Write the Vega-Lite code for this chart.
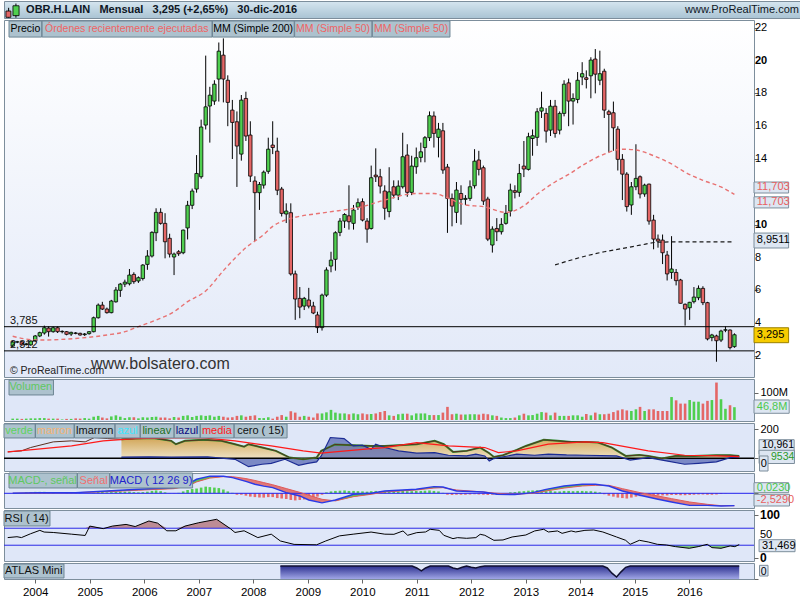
{
  "$schema": "https://vega.github.io/schema/vega-lite/v6.json",
  "background": "#ffffff",
  "padding": {"left": 2, "top": 0, "right": 0, "bottom": 0},
  "spacing": 2,
  "bounds": "flush",
  "config": {
    "font": "Liberation Sans",
    "view": {"stroke": "#7d8e9c", "strokeWidth": 1},
    "axis": {"labelFont": "Liberation Sans", "labelColor": "#000000", "labelFontSize": 11, "tickColor": "#666666", "tickSize": 4, "domain": false, "grid": false, "labelPadding": 2, "labelOverlap": false},
    "text": {"font": "Liberation Sans"}
  },
  "datasets": {
    "k": [
      {"d":"2003-07-01","o":2.60,"h":2.92,"l":2.55,"c":2.85,"v":5,"hs":0},
      {"d":"2003-08-01","o":2.85,"h":2.92,"l":2.78,"c":2.86,"v":5,"hs":0},
      {"d":"2003-09-01","o":2.86,"h":2.92,"l":2.62,"c":2.68,"v":4,"hs":0},
      {"d":"2003-10-01","o":2.70,"h":2.80,"l":2.64,"c":2.74,"v":5,"hs":0.2},
      {"d":"2003-11-01","o":2.68,"h":2.95,"l":2.62,"c":2.91,"v":6,"hs":0.25},
      {"d":"2003-12-01","o":2.91,"h":3.28,"l":2.88,"c":3.22,"v":6,"hs":0.3},
      {"d":"2004-01-01","o":3.22,"h":3.48,"l":3.15,"c":3.42,"v":7,"hs":0.3},
      {"d":"2004-02-01","o":3.40,"h":3.85,"l":3.30,"c":3.72,"v":7,"hs":0.3},
      {"d":"2004-03-01","o":3.70,"h":3.80,"l":3.18,"c":3.48,"v":5,"hs":0.2},
      {"d":"2004-04-01","o":3.48,"h":3.80,"l":3.42,"c":3.72,"v":5,"hs":0.1},
      {"d":"2004-05-01","o":3.72,"h":3.80,"l":3.40,"c":3.48,"v":5,"hs":0},
      {"d":"2004-06-01","o":3.48,"h":3.56,"l":3.38,"c":3.50,"v":2,"hs":0},
      {"d":"2004-07-01","o":3.48,"h":3.52,"l":3.26,"c":3.32,"v":4,"hs":-0.05},
      {"d":"2004-08-01","o":3.34,"h":3.48,"l":3.22,"c":3.44,"v":4,"hs":-0.05},
      {"d":"2004-09-01","o":3.40,"h":3.46,"l":3.32,"c":3.38,"v":6,"hs":-0.05},
      {"d":"2004-10-01","o":3.38,"h":3.42,"l":3.24,"c":3.28,"v":5,"hs":-0.05},
      {"d":"2004-11-01","o":3.30,"h":3.40,"l":3.22,"c":3.34,"v":7,"hs":0},
      {"d":"2004-12-01","o":3.36,"h":3.52,"l":3.30,"c":3.48,"v":5,"hs":0},
      {"d":"2005-01-01","o":3.48,"h":4.40,"l":3.44,"c":4.33,"v":12,"hs":0.1},
      {"d":"2005-02-01","o":4.33,"h":5.20,"l":4.28,"c":5.10,"v":15,"hs":0.3},
      {"d":"2005-03-01","o":5.10,"h":5.30,"l":4.80,"c":4.86,"v":9,"hs":0.3},
      {"d":"2005-04-01","o":4.86,"h":4.95,"l":4.58,"c":4.64,"v":6,"hs":0.2},
      {"d":"2005-05-01","o":4.64,"h":5.42,"l":4.60,"c":5.35,"v":13,"hs":0.25},
      {"d":"2005-06-01","o":5.30,"h":6.20,"l":5.25,"c":6.02,"v":17,"hs":0.35},
      {"d":"2005-07-01","o":6.00,"h":6.45,"l":5.60,"c":6.38,"v":12,"hs":0.4},
      {"d":"2005-08-01","o":6.38,"h":6.65,"l":6.20,"c":6.50,"v":7,"hs":0.35},
      {"d":"2005-09-01","o":6.40,"h":7.30,"l":6.30,"c":6.93,"v":10,"hs":0.35},
      {"d":"2005-10-01","o":6.97,"h":7.10,"l":6.40,"c":6.53,"v":10,"hs":0.25},
      {"d":"2005-11-01","o":6.57,"h":6.85,"l":6.45,"c":6.77,"v":6,"hs":0.2},
      {"d":"2005-12-01","o":6.72,"h":7.60,"l":6.60,"c":7.54,"v":10,"hs":0.25},
      {"d":"2006-01-01","o":7.58,"h":8.45,"l":7.25,"c":8.09,"v":9,"hs":0.35},
      {"d":"2006-02-01","o":8.09,"h":9.60,"l":8.00,"c":9.53,"v":11,"hs":0.5},
      {"d":"2006-03-01","o":9.51,"h":11.00,"l":9.00,"c":10.75,"v":12,"hs":0.6},
      {"d":"2006-04-01","o":10.75,"h":11.00,"l":10.00,"c":10.08,"v":9,"hs":0.45},
      {"d":"2006-05-01","o":10.08,"h":10.70,"l":7.95,"c":8.96,"v":9,"hs":0.2},
      {"d":"2006-06-01","o":9.17,"h":9.45,"l":8.00,"c":8.21,"v":6,"hs":0.05},
      {"d":"2006-07-01","o":8.03,"h":8.30,"l":6.93,"c":8.21,"v":11,"hs":-0.05},
      {"d":"2006-08-01","o":8.35,"h":8.45,"l":8.10,"c":8.23,"v":9,"hs":0.1},
      {"d":"2006-09-01","o":8.29,"h":9.70,"l":8.20,"c":9.67,"v":15,"hs":0.4},
      {"d":"2006-10-01","o":9.80,"h":11.45,"l":9.10,"c":11.18,"v":17,"hs":0.7},
      {"d":"2006-11-01","o":11.18,"h":12.20,"l":10.95,"c":12.05,"v":11,"hs":0.9},
      {"d":"2006-12-01","o":12.17,"h":14.24,"l":11.95,"c":13.12,"v":15,"hs":1.0},
      {"d":"2007-01-01","o":12.92,"h":16.40,"l":12.80,"c":15.95,"v":17,"hs":1.2},
      {"d":"2007-02-01","o":16.07,"h":20.30,"l":15.80,"c":17.18,"v":15,"hs":1.4},
      {"d":"2007-03-01","o":17.23,"h":18.40,"l":15.00,"c":17.89,"v":17,"hs":1.3},
      {"d":"2007-04-01","o":17.53,"h":18.80,"l":17.30,"c":18.56,"v":12,"hs":1.2},
      {"d":"2007-05-01","o":18.87,"h":21.10,"l":17.50,"c":20.57,"v":15,"hs":1.1},
      {"d":"2007-06-01","o":20.33,"h":21.35,"l":17.45,"c":18.87,"v":12,"hs":0.8},
      {"d":"2007-07-01","o":18.80,"h":19.10,"l":16.00,"c":17.45,"v":9,"hs":0.4},
      {"d":"2007-08-01","o":16.98,"h":17.60,"l":14.00,"c":16.23,"v":10,"hs":0.1},
      {"d":"2007-09-01","o":16.27,"h":16.90,"l":12.30,"c":14.79,"v":15,"hs":-0.3},
      {"d":"2007-10-01","o":14.30,"h":17.90,"l":13.90,"c":17.59,"v":17,"hs":-0.3},
      {"d":"2007-11-01","o":17.69,"h":18.10,"l":15.10,"c":15.40,"v":12,"hs":-0.5},
      {"d":"2007-12-01","o":15.46,"h":16.30,"l":12.60,"c":12.96,"v":15,"hs":-0.7},
      {"d":"2008-01-01","o":12.66,"h":12.95,"l":9.00,"c":11.95,"v":17,"hs":-0.8},
      {"d":"2008-02-01","o":11.95,"h":12.60,"l":10.90,"c":12.45,"v":7,"hs":-0.9},
      {"d":"2008-03-01","o":12.41,"h":13.30,"l":12.20,"c":13.20,"v":7,"hs":-0.9},
      {"d":"2008-04-01","o":13.25,"h":15.30,"l":13.10,"c":14.60,"v":10,"hs":-0.8},
      {"d":"2008-05-01","o":14.85,"h":16.30,"l":14.30,"c":14.70,"v":5,"hs":-0.8},
      {"d":"2008-06-01","o":14.48,"h":15.30,"l":11.80,"c":12.10,"v":12,"hs":-1.0},
      {"d":"2008-07-01","o":12.17,"h":12.30,"l":10.50,"c":10.69,"v":18,"hs":-1.1},
      {"d":"2008-08-01","o":10.65,"h":11.30,"l":10.10,"c":10.83,"v":12,"hs":-1.2},
      {"d":"2008-09-01","o":10.73,"h":11.30,"l":6.90,"c":7.00,"v":32,"hs":-1.4},
      {"d":"2008-10-01","o":7.00,"h":7.20,"l":4.20,"c":5.47,"v":27,"hs":-1.5},
      {"d":"2008-11-01","o":5.51,"h":6.20,"l":4.30,"c":4.98,"v":12,"hs":-1.4},
      {"d":"2008-12-01","o":5.04,"h":5.60,"l":4.80,"c":5.51,"v":15,"hs":-1.3},
      {"d":"2009-01-01","o":5.41,"h":6.15,"l":4.90,"c":5.04,"v":12,"hs":-1.1},
      {"d":"2009-02-01","o":5.04,"h":5.30,"l":4.55,"c":4.62,"v":9,"hs":-0.9},
      {"d":"2009-03-01","o":4.50,"h":4.70,"l":3.40,"c":3.73,"v":24,"hs":-0.7},
      {"d":"2009-04-01","o":3.73,"h":5.80,"l":3.55,"c":5.71,"v":24,"hs":-0.3},
      {"d":"2009-05-01","o":5.71,"h":7.40,"l":5.60,"c":7.24,"v":28,"hs":0.2},
      {"d":"2009-06-01","o":7.48,"h":8.35,"l":7.10,"c":7.84,"v":37,"hs":0.4},
      {"d":"2009-07-01","o":7.89,"h":9.60,"l":7.20,"c":9.51,"v":27,"hs":0.5},
      {"d":"2009-08-01","o":9.53,"h":10.40,"l":9.30,"c":10.22,"v":24,"hs":0.55},
      {"d":"2009-09-01","o":10.22,"h":10.70,"l":9.80,"c":10.62,"v":24,"hs":0.6},
      {"d":"2009-10-01","o":10.54,"h":12.40,"l":9.70,"c":10.18,"v":21,"hs":0.5},
      {"d":"2009-11-01","o":10.08,"h":11.20,"l":9.70,"c":10.89,"v":24,"hs":0.5},
      {"d":"2009-12-01","o":11.07,"h":11.60,"l":10.90,"c":11.34,"v":21,"hs":0.45},
      {"d":"2010-01-01","o":11.40,"h":11.60,"l":10.20,"c":10.28,"v":24,"hs":0.4},
      {"d":"2010-02-01","o":10.22,"h":10.40,"l":8.90,"c":9.73,"v":21,"hs":0.35},
      {"d":"2010-03-01","o":9.77,"h":13.60,"l":9.70,"c":12.86,"v":22,"hs":0.45},
      {"d":"2010-04-01","o":13.02,"h":14.65,"l":12.60,"c":12.92,"v":24,"hs":0.5},
      {"d":"2010-05-01","o":12.92,"h":13.40,"l":11.90,"c":12.35,"v":29,"hs":0.45},
      {"d":"2010-06-01","o":12.05,"h":12.40,"l":10.30,"c":11.00,"v":33,"hs":0.4},
      {"d":"2010-07-01","o":10.80,"h":13.50,"l":10.45,"c":12.00,"v":17,"hs":0.4},
      {"d":"2010-08-01","o":12.31,"h":12.70,"l":11.60,"c":11.80,"v":15,"hs":0.4},
      {"d":"2010-09-01","o":11.80,"h":12.70,"l":11.50,"c":12.35,"v":21,"hs":0.4},
      {"d":"2010-10-01","o":12.31,"h":15.60,"l":12.20,"c":14.14,"v":23,"hs":0.5},
      {"d":"2010-11-01","o":14.24,"h":14.90,"l":11.70,"c":11.97,"v":23,"hs":0.45},
      {"d":"2010-12-01","o":11.97,"h":14.20,"l":11.80,"c":13.57,"v":17,"hs":0.45},
      {"d":"2011-01-01","o":13.53,"h":14.70,"l":13.10,"c":14.08,"v":24,"hs":0.5},
      {"d":"2011-02-01","o":14.10,"h":15.00,"l":13.80,"c":14.44,"v":24,"hs":0.5},
      {"d":"2011-03-01","o":14.70,"h":15.40,"l":13.80,"c":15.30,"v":24,"hs":0.55},
      {"d":"2011-04-01","o":15.30,"h":16.90,"l":15.10,"c":16.64,"v":18,"hs":0.6},
      {"d":"2011-05-01","o":16.62,"h":16.90,"l":14.70,"c":15.56,"v":18,"hs":0.5},
      {"d":"2011-06-01","o":15.32,"h":16.20,"l":14.10,"c":15.82,"v":18,"hs":0.4},
      {"d":"2011-07-01","o":15.72,"h":16.20,"l":13.10,"c":13.33,"v":27,"hs":0.1},
      {"d":"2011-08-01","o":13.51,"h":13.70,"l":9.50,"c":11.60,"v":48,"hs":-0.3},
      {"d":"2011-09-01","o":11.60,"h":11.90,"l":9.90,"c":11.13,"v":21,"hs":-0.35},
      {"d":"2011-10-01","o":10.75,"h":12.60,"l":10.10,"c":12.11,"v":23,"hs":-0.3},
      {"d":"2011-11-01","o":11.90,"h":12.40,"l":10.00,"c":11.54,"v":20,"hs":-0.3},
      {"d":"2011-12-01","o":11.54,"h":11.80,"l":11.20,"c":11.60,"v":20,"hs":-0.3},
      {"d":"2012-01-01","o":11.60,"h":12.70,"l":11.45,"c":12.31,"v":21,"hs":-0.25},
      {"d":"2012-02-01","o":12.37,"h":14.60,"l":12.20,"c":13.87,"v":21,"hs":-0.2},
      {"d":"2012-03-01","o":13.94,"h":14.50,"l":13.00,"c":13.37,"v":20,"hs":-0.25},
      {"d":"2012-04-01","o":13.47,"h":13.60,"l":11.20,"c":11.44,"v":23,"hs":-0.3},
      {"d":"2012-05-01","o":11.56,"h":11.70,"l":9.00,"c":9.12,"v":21,"hs":-0.35},
      {"d":"2012-06-01","o":8.76,"h":9.90,"l":8.30,"c":9.73,"v":17,"hs":-0.3},
      {"d":"2012-07-01","o":9.77,"h":10.40,"l":9.00,"c":9.57,"v":15,"hs":-0.2},
      {"d":"2012-08-01","o":9.57,"h":10.40,"l":9.40,"c":10.02,"v":9,"hs":-0.1},
      {"d":"2012-09-01","o":10.08,"h":11.20,"l":10.00,"c":10.69,"v":7,"hs":0.05},
      {"d":"2012-10-01","o":10.83,"h":12.50,"l":10.50,"c":12.11,"v":7,"hs":0.2},
      {"d":"2012-11-01","o":12.07,"h":12.40,"l":11.60,"c":11.97,"v":9,"hs":0.25},
      {"d":"2012-12-01","o":11.97,"h":13.70,"l":11.70,"c":13.12,"v":17,"hs":0.4},
      {"d":"2013-01-01","o":13.57,"h":15.10,"l":12.90,"c":13.39,"v":23,"hs":0.45},
      {"d":"2013-02-01","o":13.37,"h":15.60,"l":13.30,"c":15.36,"v":17,"hs":0.55},
      {"d":"2013-03-01","o":15.25,"h":15.80,"l":14.20,"c":15.42,"v":18,"hs":0.6},
      {"d":"2013-04-01","o":15.32,"h":17.10,"l":14.80,"c":16.88,"v":23,"hs":0.65},
      {"d":"2013-05-01","o":16.92,"h":18.10,"l":16.50,"c":17.12,"v":29,"hs":0.6},
      {"d":"2013-06-01","o":16.78,"h":17.10,"l":15.00,"c":15.70,"v":27,"hs":0.45},
      {"d":"2013-07-01","o":15.76,"h":17.60,"l":15.40,"c":17.22,"v":17,"hs":0.5},
      {"d":"2013-08-01","o":17.22,"h":17.60,"l":15.30,"c":15.56,"v":27,"hs":0.4},
      {"d":"2013-09-01","o":15.76,"h":16.90,"l":15.50,"c":16.78,"v":15,"hs":0.4},
      {"d":"2013-10-01","o":16.78,"h":18.80,"l":16.60,"c":18.56,"v":15,"hs":0.5},
      {"d":"2013-11-01","o":18.64,"h":18.90,"l":16.00,"c":17.53,"v":15,"hs":0.5},
      {"d":"2013-12-01","o":17.53,"h":18.00,"l":16.10,"c":17.69,"v":17,"hs":0.45},
      {"d":"2014-01-01","o":17.63,"h":19.30,"l":17.40,"c":18.80,"v":17,"hs":0.5},
      {"d":"2014-02-01","o":19.00,"h":19.90,"l":18.50,"c":19.20,"v":12,"hs":0.5},
      {"d":"2014-03-01","o":18.95,"h":19.40,"l":18.30,"c":18.85,"v":22,"hs":0.45},
      {"d":"2014-04-01","o":19.07,"h":20.20,"l":17.70,"c":20.03,"v":17,"hs":0.45},
      {"d":"2014-05-01","o":20.09,"h":20.70,"l":18.00,"c":19.17,"v":27,"hs":0.35},
      {"d":"2014-06-01","o":18.80,"h":20.60,"l":18.50,"c":19.20,"v":21,"hs":0.2},
      {"d":"2014-07-01","o":19.35,"h":19.50,"l":16.50,"c":16.98,"v":21,"hs":-0.2},
      {"d":"2014-08-01","o":16.88,"h":17.00,"l":14.40,"c":16.72,"v":23,"hs":-0.5},
      {"d":"2014-09-01","o":16.82,"h":17.50,"l":14.50,"c":15.90,"v":29,"hs":-0.7},
      {"d":"2014-10-01","o":15.82,"h":16.00,"l":13.30,"c":13.98,"v":35,"hs":-0.9},
      {"d":"2014-11-01","o":13.98,"h":14.30,"l":11.50,"c":13.08,"v":39,"hs":-1.0},
      {"d":"2014-12-01","o":13.08,"h":13.20,"l":10.80,"c":11.10,"v":35,"hs":-1.1},
      {"d":"2015-01-01","o":11.20,"h":12.60,"l":10.60,"c":12.31,"v":33,"hs":-0.9},
      {"d":"2015-02-01","o":12.31,"h":14.90,"l":12.10,"c":12.82,"v":39,"hs":-0.7},
      {"d":"2015-03-01","o":12.92,"h":13.00,"l":11.60,"c":11.87,"v":48,"hs":-0.6},
      {"d":"2015-04-01","o":11.87,"h":12.50,"l":11.70,"c":12.41,"v":33,"hs":-0.45},
      {"d":"2015-05-01","o":12.47,"h":12.50,"l":10.00,"c":10.22,"v":39,"hs":-0.5},
      {"d":"2015-06-01","o":10.28,"h":10.60,"l":8.50,"c":9.12,"v":39,"hs":-0.5},
      {"d":"2015-07-01","o":9.12,"h":9.40,"l":8.60,"c":9.00,"v":33,"hs":-0.45},
      {"d":"2015-08-01","o":9.06,"h":9.40,"l":7.60,"c":8.29,"v":33,"hs":-0.45},
      {"d":"2015-09-01","o":8.15,"h":8.40,"l":6.60,"c":7.00,"v":33,"hs":-0.45},
      {"d":"2015-10-01","o":7.09,"h":9.30,"l":6.70,"c":7.30,"v":84,"hs":-0.35},
      {"d":"2015-11-01","o":7.09,"h":7.30,"l":6.30,"c":6.59,"v":72,"hs":-0.35},
      {"d":"2015-12-01","o":6.63,"h":6.70,"l":5.20,"c":5.21,"v":60,"hs":-0.4},
      {"d":"2016-01-01","o":5.15,"h":5.20,"l":3.85,"c":4.86,"v":60,"hs":-0.4},
      {"d":"2016-02-01","o":4.94,"h":5.30,"l":4.20,"c":5.27,"v":73,"hs":-0.35},
      {"d":"2016-03-01","o":5.31,"h":6.20,"l":5.20,"c":5.59,"v":67,"hs":-0.3},
      {"d":"2016-04-01","o":5.55,"h":6.30,"l":5.40,"c":6.12,"v":67,"hs":-0.25},
      {"d":"2016-05-01","o":6.12,"h":6.25,"l":5.10,"c":5.25,"v":60,"hs":-0.25},
      {"d":"2016-06-01","o":5.25,"h":5.30,"l":2.95,"c":3.04,"v":70,"hs":-0.3},
      {"d":"2016-07-01","o":3.12,"h":3.35,"l":2.90,"c":3.28,"v":73,"hs":-0.3},
      {"d":"2016-08-01","o":3.22,"h":3.30,"l":1.65,"c":2.93,"v":137,"hs":-0.25},
      {"d":"2016-09-01","o":2.97,"h":3.60,"l":2.85,"c":3.52,"v":76,"hs":-0.15},
      {"d":"2016-10-01","o":3.57,"h":3.80,"l":3.45,"c":3.60,"v":41,"hs":-0.05},
      {"d":"2016-11-01","o":3.58,"h":3.62,"l":2.40,"c":2.51,"v":54,"hs":0},
      {"d":"2016-12-01","o":2.57,"h":3.38,"l":2.50,"c":3.295,"v":46.8,"hs":0.02}
    ],
    "ma50": [
      {"d":"2003-07-01","v":3.20},{"d":"2003-10-01","v":3.03},{"d":"2004-01-01","v":2.97},{"d":"2004-09-01","v":3.07},
      {"d":"2005-04-01","v":3.28},{"d":"2005-08-01","v":3.48},{"d":"2005-11-01","v":3.79},{"d":"2006-03-01","v":4.19},
      {"d":"2006-07-01","v":4.70},{"d":"2006-10-01","v":5.31},{"d":"2007-02-01","v":5.96},{"d":"2007-06-01","v":7.20},
      {"d":"2007-11-01","v":8.60},{"d":"2008-03-01","v":9.40},{"d":"2008-05-01","v":9.90},{"d":"2008-08-01","v":10.30},
      {"d":"2008-10-01","v":10.45},{"d":"2009-05-01","v":10.75},{"d":"2010-01-01","v":11.10},{"d":"2010-06-01","v":11.50},
      {"d":"2011-01-01","v":11.90},{"d":"2011-05-01","v":11.90},{"d":"2011-08-01","v":11.64},{"d":"2011-12-01","v":11.20},
      {"d":"2012-04-01","v":11.10},{"d":"2012-09-01","v":10.75},{"d":"2013-01-01","v":11.15},{"d":"2013-04-01","v":11.85},
      {"d":"2013-08-01","v":12.60},{"d":"2013-11-01","v":13.06},{"d":"2014-02-01","v":13.60},{"d":"2014-07-01","v":14.30},
      {"d":"2014-11-01","v":14.60},{"d":"2015-02-01","v":14.55},{"d":"2015-06-01","v":14.20},{"d":"2015-10-01","v":13.70},
      {"d":"2016-01-01","v":13.20},{"d":"2016-05-01","v":12.70},{"d":"2016-09-01","v":12.30},{"d":"2016-12-01","v":11.85}
    ],
    "ma200": [
      {"d":"2013-08-01","v":7.55},{"d":"2013-11-01","v":7.80},{"d":"2014-03-01","v":8.10},{"d":"2014-07-01","v":8.35},
      {"d":"2014-11-01","v":8.55},{"d":"2015-03-01","v":8.75},{"d":"2015-07-01","v":8.93},{"d":"2015-11-01","v":8.95},
      {"d":"2016-12-01","v":8.95}
    ],
    "osc": [
      {"d":"2003-07-01","s":"md","v":44},{"d":"2004-01-01","s":"md","v":62},{"d":"2004-09-01","s":"md","v":85},
      {"d":"2005-04-01","s":"md","v":120},{"d":"2005-11-01","s":"md","v":136},{"d":"2006-07-01","s":"md","v":140},
      {"d":"2007-02-01","s":"md","v":140},{"d":"2007-09-01","s":"md","v":120},{"d":"2008-05-01","s":"md","v":85},
      {"d":"2008-12-01","s":"md","v":51},{"d":"2009-04-01","s":"md","v":35},{"d":"2009-07-01","s":"md","v":44},
      {"d":"2010-03-01","s":"md","v":67},{"d":"2010-06-01","s":"md","v":74},{"d":"2011-01-01","s":"md","v":108},
      {"d":"2011-08-01","s":"md","v":85},{"d":"2012-04-01","s":"md","v":74},{"d":"2012-07-01","s":"md","v":39},
      {"d":"2012-11-01","s":"md","v":51},{"d":"2013-06-01","s":"md","v":97},{"d":"2014-02-01","s":"md","v":113},
      {"d":"2014-06-01","s":"md","v":108},{"d":"2014-09-01","s":"md","v":90},{"d":"2015-04-01","s":"md","v":51},
      {"d":"2015-12-01","s":"md","v":21},{"d":"2016-07-01","s":"md","v":16},{"d":"2016-12-01","s":"md","v":12},
      {"d":"2003-07-01","s":"mr","v":44},{"d":"2003-10-01","s":"mr","v":51},{"d":"2003-12-01","s":"mr","v":74},
      {"d":"2004-05-01","s":"mr","v":113},{"d":"2004-09-01","s":"mr","v":120},{"d":"2004-12-01","s":"mr","v":113},
      {"d":"2005-02-01","s":"mr","v":143},{"d":"2005-05-01","s":"mr","v":136},{"d":"2005-08-01","s":"mr","v":131},
      {"d":"2005-11-01","s":"mr","v":136},{"d":"2006-03-01","s":"mr","v":140},{"d":"2006-07-01","s":"mr","v":120},
      {"d":"2006-08-01","s":"mr","v":97},{"d":"2006-10-01","s":"mr","v":120},{"d":"2007-02-01","s":"mr","v":127},
      {"d":"2007-06-01","s":"mr","v":120},{"d":"2007-09-01","s":"mr","v":97},{"d":"2007-11-01","s":"mr","v":80},
      {"d":"2007-12-01","s":"mr","v":97},{"d":"2008-03-01","s":"mr","v":74},{"d":"2008-06-01","s":"mr","v":51},
      {"d":"2008-09-01","s":"mr","v":5},{"d":"2008-12-01","s":"mr","v":-7},{"d":"2009-03-01","s":"mr","v":5},
      {"d":"2009-04-01","s":"mr","v":51},{"d":"2009-06-01","s":"mr","v":80},{"d":"2009-07-01","s":"mr","v":95},
      {"d":"2009-11-01","s":"mr","v":90},{"d":"2010-03-01","s":"mr","v":85},{"d":"2010-06-01","s":"mr","v":85},
      {"d":"2010-09-01","s":"mr","v":90},{"d":"2011-01-01","s":"mr","v":97},{"d":"2011-05-01","s":"mr","v":120},
      {"d":"2011-07-01","s":"mr","v":97},{"d":"2011-09-01","s":"mr","v":44},{"d":"2011-12-01","s":"mr","v":51},
      {"d":"2012-03-01","s":"mr","v":74},{"d":"2012-05-01","s":"mr","v":35},{"d":"2012-06-01","s":"mr","v":9},
      {"d":"2012-08-01","s":"mr","v":21},{"d":"2012-11-01","s":"mr","v":58},{"d":"2013-01-01","s":"mr","v":85},
      {"d":"2013-05-01","s":"mr","v":127},{"d":"2013-08-01","s":"mr","v":120},{"d":"2013-11-01","s":"mr","v":113},
      {"d":"2014-02-01","s":"mr","v":113},{"d":"2014-05-01","s":"mr","v":108},{"d":"2014-08-01","s":"mr","v":74},
      {"d":"2014-11-01","s":"mr","v":16},{"d":"2015-02-01","s":"mr","v":23},{"d":"2015-04-01","s":"mr","v":16},
      {"d":"2015-07-01","s":"mr","v":-2},{"d":"2015-10-01","s":"mr","v":16},{"d":"2016-02-01","s":"mr","v":16},
      {"d":"2016-07-01","s":"mr","v":21},{"d":"2016-10-01","s":"mr","v":21},{"d":"2016-12-01","s":"mr","v":16},
      {"d":"2005-08-01","s":"az","v":8},{"d":"2006-02-01","s":"az","v":10},{"d":"2006-07-01","s":"az","v":8},
      {"d":"2007-03-01","s":"az","v":10},{"d":"2007-09-01","s":"az","v":-7},{"d":"2007-12-01","s":"az","v":-58},
      {"d":"2008-03-01","s":"az","v":-41},{"d":"2008-05-01","s":"az","v":-35},{"d":"2008-08-01","s":"az","v":-7},
      {"d":"2008-11-01","s":"az","v":-48},{"d":"2009-01-01","s":"az","v":-35},{"d":"2009-03-01","s":"az","v":-25},
      {"d":"2009-04-01","s":"az","v":16},{"d":"2009-06-01","s":"az","v":143},{"d":"2009-09-01","s":"az","v":136},
      {"d":"2009-11-01","s":"az","v":85},{"d":"2010-01-01","s":"az","v":90},{"d":"2010-03-01","s":"az","v":62},
      {"d":"2010-04-01","s":"az","v":97},{"d":"2010-06-01","s":"az","v":74},{"d":"2010-09-01","s":"az","v":51},
      {"d":"2011-01-01","s":"az","v":35},{"d":"2011-05-01","s":"az","v":39},{"d":"2011-08-01","s":"az","v":21},
      {"d":"2011-12-01","s":"az","v":16},{"d":"2012-02-01","s":"az","v":28},{"d":"2012-04-01","s":"az","v":16},
      {"d":"2012-05-01","s":"az","v":-18},{"d":"2012-06-01","s":"az","v":-2},{"d":"2012-11-01","s":"az","v":28},
      {"d":"2013-03-01","s":"az","v":21},{"d":"2013-06-01","s":"az","v":28},{"d":"2013-10-01","s":"az","v":23},
      {"d":"2014-02-01","s":"az","v":21},{"d":"2014-09-01","s":"az","v":16},{"d":"2014-12-01","s":"az","v":-12},
      {"d":"2015-04-01","s":"az","v":5},{"d":"2015-08-01","s":"az","v":-18},{"d":"2015-12-01","s":"az","v":-41},
      {"d":"2016-03-01","s":"az","v":-35},{"d":"2016-07-01","s":"az","v":-25},{"d":"2016-10-01","s":"az","v":5},
      {"d":"2016-12-01","s":"az","v":12}
    ],
    "macd": [
      {"d":"2003-07-01","mc":0,"sg":0},{"d":"2004-01-01","mc":0.14,"sg":0.10},{"d":"2004-09-01","mc":0.14,"sg":0.14},
      {"d":"2005-04-01","mc":0.49,"sg":0.35},{"d":"2005-11-01","mc":0.84,"sg":0.65},{"d":"2006-07-01","mc":1.19,"sg":0.98},
      {"d":"2006-10-01","mc":1.9,"sg":1.5},{"d":"2006-12-01","mc":2.95,"sg":2.4},{"d":"2007-03-01","mc":3.6,"sg":3.2},
      {"d":"2007-06-01","mc":3.6,"sg":3.5},{"d":"2007-08-01","mc":3.3,"sg":3.5},{"d":"2007-11-01","mc":2.5,"sg":3.1},
      {"d":"2008-01-01","mc":1.9,"sg":2.7},{"d":"2008-03-01","mc":1.5,"sg":2.25},{"d":"2008-05-01","mc":1.19,"sg":1.8},
      {"d":"2008-08-01","mc":0.14,"sg":1.0},{"d":"2008-11-01","mc":-0.56,"sg":0.2},{"d":"2009-01-01","mc":-1.4,"sg":-0.4},
      {"d":"2009-04-01","mc":-2.0,"sg":-1.26},{"d":"2009-07-01","mc":-1.4,"sg":-1.6},{"d":"2009-11-01","mc":-0.21,"sg":-0.7},
      {"d":"2010-03-01","mc":0,"sg":-0.21},{"d":"2010-06-01","mc":0.49,"sg":0.28},{"d":"2011-01-01","mc":0.84,"sg":0.7},
      {"d":"2011-05-01","mc":1.4,"sg":1.1},{"d":"2011-07-01","mc":1.33,"sg":1.19},{"d":"2011-10-01","mc":0.49,"sg":0.7},
      {"d":"2012-04-01","mc":0.28,"sg":0.28},{"d":"2012-07-01","mc":-0.21,"sg":0},{"d":"2012-11-01","mc":-0.28,"sg":-0.21},
      {"d":"2013-03-01","mc":0.14,"sg":0},{"d":"2013-06-01","mc":0.84,"sg":0.49},{"d":"2013-10-01","mc":1.54,"sg":1.1},
      {"d":"2014-02-01","mc":1.9,"sg":1.54},{"d":"2014-05-01","mc":1.9,"sg":1.68},{"d":"2014-08-01","mc":1.54,"sg":1.68},
      {"d":"2014-11-01","mc":0.49,"sg":0.98},{"d":"2015-03-01","mc":-0.42,"sg":0.14},{"d":"2015-07-01","mc":-1.26,"sg":-0.56},
      {"d":"2015-10-01","mc":-1.83,"sg":-1.12},{"d":"2016-02-01","mc":-2.53,"sg":-1.83},{"d":"2016-06-01","mc":-2.53,"sg":-2.32},
      {"d":"2016-09-01","mc":-2.67,"sg":-2.6},{"d":"2016-12-01","mc":-2.6,"sg":-2.62}
    ],
    "rsi": [
      {"d":"2003-07-01","v":48},{"d":"2003-09-01","v":50},{"d":"2003-10-01","v":48},{"d":"2003-12-01","v":57},
      {"d":"2004-02-01","v":65},{"d":"2004-03-01","v":61},{"d":"2004-05-01","v":60},{"d":"2004-09-01","v":56},
      {"d":"2004-12-01","v":53},{"d":"2005-01-01","v":75},{"d":"2005-04-01","v":69},{"d":"2005-06-01","v":75},
      {"d":"2005-09-01","v":79},{"d":"2005-11-01","v":74},{"d":"2006-02-01","v":87},{"d":"2006-04-01","v":82},
      {"d":"2006-06-01","v":64},{"d":"2006-08-01","v":64},{"d":"2006-10-01","v":75},{"d":"2007-01-01","v":83},
      {"d":"2007-05-01","v":91},{"d":"2007-08-01","v":69},{"d":"2007-09-01","v":60},{"d":"2007-11-01","v":64},
      {"d":"2008-02-01","v":48},{"d":"2008-05-01","v":56},{"d":"2008-07-01","v":40},{"d":"2008-10-01","v":32},
      {"d":"2009-03-01","v":31},{"d":"2009-05-01","v":40},{"d":"2009-08-01","v":52},{"d":"2009-11-01","v":56},
      {"d":"2010-03-01","v":61},{"d":"2010-06-01","v":56},{"d":"2010-08-01","v":55.7},{"d":"2010-10-01","v":63.6},
      {"d":"2010-11-01","v":53.4},{"d":"2011-01-01","v":59.6},{"d":"2011-03-01","v":61.2},{"d":"2011-04-01","v":67.5},
      {"d":"2011-06-01","v":65},{"d":"2011-07-01","v":53.4},{"d":"2011-09-01","v":45.5},{"d":"2011-10-01","v":47.9},
      {"d":"2011-12-01","v":46.3},{"d":"2012-02-01","v":47.9},{"d":"2012-03-01","v":55.7},{"d":"2012-04-01","v":53.4},
      {"d":"2012-06-01","v":41.6},{"d":"2012-08-01","v":42.4},{"d":"2012-10-01","v":49.4},{"d":"2013-01-01","v":54.1},
      {"d":"2013-03-01","v":63.6},{"d":"2013-05-01","v":67.5},{"d":"2013-06-01","v":61.2},{"d":"2013-08-01","v":63.6},
      {"d":"2013-09-01","v":58},{"d":"2013-11-01","v":63.6},{"d":"2013-12-01","v":61.2},{"d":"2014-02-01","v":65},
      {"d":"2014-04-01","v":65.9},{"d":"2014-06-01","v":61.2},{"d":"2014-08-01","v":53.4},{"d":"2014-09-01","v":49.4},
      {"d":"2014-11-01","v":41.6},{"d":"2014-12-01","v":32.2},{"d":"2015-02-01","v":41.6},{"d":"2015-04-01","v":37.7},
      {"d":"2015-06-01","v":32.2},{"d":"2015-08-01","v":30.6},{"d":"2015-10-01","v":26.7},{"d":"2016-01-01","v":22.8},
      {"d":"2016-03-01","v":26.7},{"d":"2016-05-01","v":32.2},{"d":"2016-06-01","v":24.4},{"d":"2016-08-01","v":22.8},
      {"d":"2016-10-01","v":28.3},{"d":"2016-11-01","v":26.7},{"d":"2016-12-01","v":31.5}
    ],
    "atlas": [
      {"d":"2008-07-01","v":1},{"d":"2010-12-01","v":1},{"d":"2011-01-01","v":0.85},{"d":"2011-02-01","v":0.62},
      {"d":"2011-03-01","v":0.85},{"d":"2011-04-01","v":1},{"d":"2011-08-01","v":1},{"d":"2011-09-01","v":0.85},
      {"d":"2011-10-01","v":0.77},{"d":"2011-11-01","v":0.9},{"d":"2011-12-01","v":1},{"d":"2012-01-01","v":0.9},
      {"d":"2012-02-01","v":0.85},{"d":"2012-03-01","v":0.95},{"d":"2012-04-01","v":1},{"d":"2014-06-01","v":1},
      {"d":"2014-07-01","v":0.85},{"d":"2014-08-01","v":0.45},{"d":"2014-09-01","v":0.15},{"d":"2014-10-01","v":0.55},
      {"d":"2014-11-01","v":0.9},{"d":"2014-12-01","v":1},{"d":"2016-12-01","v":1}
    ]
  },
  "vconcat": [
    {
      "width": 796, "height": 17,
      "view": {"fill": {"gradient": "linear", "x1": 0, "y1": 0, "x2": 0, "y2": 1, "stops": [{"offset": 0, "color": "#d5e5ef"}, {"offset": 1, "color": "#a9c3d3"}]}, "stroke": "#7d8e9c"},
      "data": {"values": [{}]},
      "layer": [
        {"mark": {"type": "rule", "color": "#000000", "strokeWidth": 1}, "encoding": {"x": {"datum": {"year": 2003, "month": 7, "date": 7}, "type": "temporal", "scale": {"domain": [{"year": 2003, "month": 6, "date": 6}, {"year": 2018, "month": 1, "date": 13}]}, "axis": null}, "y": {"datum": 0.6, "type": "quantitative", "scale": {"domain": [0, 1]}, "axis": null}, "y2": {"datum": 0.02}}},
        {"mark": {"type": "rect", "fill": "#e46666", "stroke": "#000000", "strokeWidth": 0.8}, "encoding": {"x": {"datum": {"year": 2003, "month": 6, "date": 19}, "type": "temporal", "axis": null}, "x2": {"datum": {"year": 2003, "month": 7, "date": 22}}, "y": {"datum": 0.41, "type": "quantitative", "axis": null}, "y2": {"datum": 0.04}}},
        {"mark": {"type": "rule", "color": "#000000", "strokeWidth": 1}, "encoding": {"x": {"datum": {"year": 2003, "month": 8, "date": 25}, "type": "temporal", "axis": null}, "y": {"datum": 0.85, "type": "quantitative", "axis": null}, "y2": {"datum": 0.02}}},
        {"mark": {"type": "rect", "fill": "#4fcf4f", "stroke": "#000000", "strokeWidth": 0.8}, "encoding": {"x": {"datum": {"year": 2003, "month": 8, "date": 5}, "type": "temporal", "axis": null}, "x2": {"datum": {"year": 2003, "month": 9, "date": 15}}, "y": {"datum": 0.72, "type": "quantitative", "axis": null}, "y2": {"datum": 0.14}}},
        {"mark": {"type": "text", "align": "left", "baseline": "middle", "fontSize": 11, "fontWeight": "bold", "color": "#0e1624", "text": "OBR.H.LAIN\u00a0\u00a0\u00a0Mensual\u00a0\u00a0\u00a03,295 (+2,65%)\u00a0\u00a0\u00a030-dic-2016"}, "encoding": {"x": {"datum": {"year": 2003, "month": 11, "date": 1}, "type": "temporal", "axis": null}, "y": {"datum": 0.5, "type": "quantitative", "axis": null}}},
        {"mark": {"type": "text", "align": "right", "baseline": "middle", "fontSize": 11, "color": "#0e1624", "text": "www.ProRealTime.com"}, "encoding": {"x": {"datum": {"year": 2018, "month": 1, "date": 6}, "type": "temporal", "axis": null}, "y": {"datum": 0.5, "type": "quantitative", "axis": null}}}
      ]
    },
    {
      "width": 750, "height": 357,
      "view": {"fill": {"gradient": "linear", "x1": 0, "y1": 0, "x2": 0, "y2": 1, "stops": [{"offset": 0, "color": "#ffffff"}, {"offset": 1, "color": "#e2e9f8"}]}, "stroke": "#7d8e9c"},
      "layer": [
        {
          "data": {"name": "k"},
          "encoding": {"x": {"field": "d", "type": "temporal", "scale": {"domain": [{"year": 2003, "month": 6, "date": 6}, {"year": 2017, "month": 3, "date": 10}]}, "axis": null}},
          "layer": [
            {"mark": {"type": "rule", "color": "#000000", "strokeWidth": 1}, "encoding": {"y": {"field": "l", "type": "quantitative", "scale": {"domain": [0.72, 22.47], "nice": false, "zero": false}, "axis": {"orient": "right", "title": null, "labels": false, "values": [2,3,4,5,6,7,8,9,10,11,12,13,14,15,16,17,18,19,20,21,22]}}, "y2": {"field": "h"}}},
            {"mark": {"type": "bar", "width": 3.4, "stroke": "#000000", "strokeWidth": 0.8}, "encoding": {"y": {"field": "o", "type": "quantitative"}, "y2": {"field": "c"}, "color": {"condition": {"test": "datum.c >= datum.o", "value": "#4fcf4f"}, "value": "#e46666"}}}
          ]
        },
        {"data": {"name": "ma50"}, "mark": {"type": "line", "color": "#e87272", "strokeWidth": 1.4, "strokeDash": [4, 3], "interpolate": "monotone"}, "encoding": {"x": {"field": "d", "type": "temporal", "axis": null}, "y": {"field": "v", "type": "quantitative"}}},
        {"data": {"name": "ma200"}, "mark": {"type": "line", "color": "#1a1a1a", "strokeWidth": 1.2, "strokeDash": [4, 3], "interpolate": "monotone"}, "encoding": {"x": {"field": "d", "type": "temporal", "axis": null}, "y": {"field": "v", "type": "quantitative"}}},
        {
          "data": {"values": [{}]},
          "layer": [
            {"mark": {"type": "rule", "color": "#000000", "strokeWidth": 1}, "encoding": {"y": {"datum": 3.785, "type": "quantitative"}}},
            {"mark": {"type": "rule", "color": "#000000", "strokeWidth": 1}, "encoding": {"y": {"datum": 2.312, "type": "quantitative"}}},
            {"mark": {"type": "text", "align": "left", "baseline": "middle", "dy": -6, "dx": 1, "fontSize": 11, "color": "#111111", "text": "3,785"}, "encoding": {"x": {"datum": {"year": 2003, "month": 6, "date": 6}, "type": "temporal", "axis": null}, "y": {"datum": 3.785, "type": "quantitative"}}},
            {"mark": {"type": "text", "align": "left", "baseline": "middle", "dy": -6, "dx": 1, "fontSize": 11, "color": "#111111", "text": "2,312"}, "encoding": {"x": {"datum": {"year": 2003, "month": 6, "date": 6}, "type": "temporal", "axis": null}, "y": {"datum": 2.312, "type": "quantitative"}}},
            {"mark": {"type": "text", "align": "left", "baseline": "middle", "fontSize": 16, "color": "#333333", "text": "www.bolsatero.com"}, "encoding": {"x": {"datum": {"year": 2004, "month": 12, "date": 14}, "type": "temporal", "axis": null}, "y": {"datum": 1.51, "type": "quantitative"}}},
            {"mark": {"type": "text", "align": "left", "baseline": "middle", "fontSize": 10.5, "color": "#222222", "text": "© ProRealTime.com"}, "encoding": {"x": {"datum": {"year": 2003, "month": 6, "date": 12}, "type": "temporal", "axis": null}, "y": {"datum": 1.09, "type": "quantitative"}}},

            {"mark": {"type": "text", "align": "left", "baseline": "middle", "fontSize": 11, "color": "#000000", "text": "22"}, "encoding": {"x": {"datum": {"year": 2017, "month": 4, "date": 19}, "type": "temporal", "axis": null}, "y": {"datum": 22, "type": "quantitative"}}},
            {"mark": {"type": "text", "align": "left", "baseline": "middle", "fontSize": 11, "fontWeight": "bold", "color": "#000000", "text": "20"}, "encoding": {"x": {"datum": {"year": 2017, "month": 4, "date": 19}, "type": "temporal", "axis": null}, "y": {"datum": 20, "type": "quantitative"}}},
            {"mark": {"type": "text", "align": "left", "baseline": "middle", "fontSize": 11, "color": "#000000", "text": "18"}, "encoding": {"x": {"datum": {"year": 2017, "month": 4, "date": 19}, "type": "temporal", "axis": null}, "y": {"datum": 18, "type": "quantitative"}}},
            {"mark": {"type": "text", "align": "left", "baseline": "middle", "fontSize": 11, "color": "#000000", "text": "16"}, "encoding": {"x": {"datum": {"year": 2017, "month": 4, "date": 19}, "type": "temporal", "axis": null}, "y": {"datum": 16, "type": "quantitative"}}},
            {"mark": {"type": "text", "align": "left", "baseline": "middle", "fontSize": 11, "color": "#000000", "text": "14"}, "encoding": {"x": {"datum": {"year": 2017, "month": 4, "date": 19}, "type": "temporal", "axis": null}, "y": {"datum": 14, "type": "quantitative"}}},
            {"mark": {"type": "text", "align": "left", "baseline": "middle", "fontSize": 11, "fontWeight": "bold", "color": "#000000", "text": "10"}, "encoding": {"x": {"datum": {"year": 2017, "month": 4, "date": 19}, "type": "temporal", "axis": null}, "y": {"datum": 10, "type": "quantitative"}}},
            {"mark": {"type": "text", "align": "left", "baseline": "middle", "fontSize": 11, "color": "#000000", "text": "8"}, "encoding": {"x": {"datum": {"year": 2017, "month": 4, "date": 19}, "type": "temporal", "axis": null}, "y": {"datum": 8, "type": "quantitative"}}},
            {"mark": {"type": "text", "align": "left", "baseline": "middle", "fontSize": 11, "color": "#000000", "text": "6"}, "encoding": {"x": {"datum": {"year": 2017, "month": 4, "date": 19}, "type": "temporal", "axis": null}, "y": {"datum": 6, "type": "quantitative"}}},
            {"mark": {"type": "text", "align": "left", "baseline": "middle", "fontSize": 11, "color": "#000000", "text": "4"}, "encoding": {"x": {"datum": {"year": 2017, "month": 4, "date": 19}, "type": "temporal", "axis": null}, "y": {"datum": 4, "type": "quantitative"}}},
            {"mark": {"type": "text", "align": "left", "baseline": "middle", "fontSize": 11, "color": "#000000", "text": "2"}, "encoding": {"x": {"datum": {"year": 2017, "month": 4, "date": 19}, "type": "temporal", "axis": null}, "y": {"datum": 2, "type": "quantitative"}}},

            {"mark": {"type": "rect", "fill": "#adc2ce", "stroke": "#6d8594", "strokeWidth": 1}, "encoding": {"x": {"datum": {"year": 2003, "month": 6, "date": 6}, "type": "temporal", "axis": null}, "x2": {"datum": {"year": 2004, "month": 1, "date": 14}}, "y": {"datum": 22.41, "type": "quantitative"}, "y2": {"datum": 21.43}}},
            {"mark": {"type": "text", "align": "center", "baseline": "middle", "fontSize": 10.5, "color": "#000000", "text": "Precio"}, "encoding": {"x": {"datum": {"year": 2003, "month": 9, "date": 25}, "type": "temporal", "axis": null}, "y": {"datum": 21.92, "type": "quantitative"}}},
            {"mark": {"type": "rect", "fill": "#adc2ce", "stroke": "#6d8594", "strokeWidth": 1}, "encoding": {"x": {"datum": {"year": 2004, "month": 1, "date": 17}, "type": "temporal", "axis": null}, "x2": {"datum": {"year": 2007, "month": 3, "date": 16}}, "y": {"datum": 22.41, "type": "quantitative"}, "y2": {"datum": 21.43}}},
            {"mark": {"type": "text", "align": "center", "baseline": "middle", "fontSize": 10.5, "color": "#f06464", "text": "Órdenes recientemente ejecutadas"}, "encoding": {"x": {"datum": {"year": 2005, "month": 8, "date": 14}, "type": "temporal", "axis": null}, "y": {"datum": 21.92, "type": "quantitative"}}},
            {"mark": {"type": "rect", "fill": "#adc2ce", "stroke": "#6d8594", "strokeWidth": 1}, "encoding": {"x": {"datum": {"year": 2007, "month": 3, "date": 19}, "type": "temporal", "axis": null}, "x2": {"datum": {"year": 2008, "month": 9, "date": 24}}, "y": {"datum": 22.41, "type": "quantitative"}, "y2": {"datum": 21.43}}},
            {"mark": {"type": "text", "align": "center", "baseline": "middle", "fontSize": 10.5, "color": "#000000", "text": "MM (Simple 200)"}, "encoding": {"x": {"datum": {"year": 2007, "month": 12, "date": 20}, "type": "temporal", "axis": null}, "y": {"datum": 21.92, "type": "quantitative"}}},
            {"mark": {"type": "rect", "fill": "#adc2ce", "stroke": "#6d8594", "strokeWidth": 1}, "encoding": {"x": {"datum": {"year": 2008, "month": 9, "date": 27}, "type": "temporal", "axis": null}, "x2": {"datum": {"year": 2010, "month": 3, "date": 6}}, "y": {"datum": 22.41, "type": "quantitative"}, "y2": {"datum": 21.43}}},
            {"mark": {"type": "text", "align": "center", "baseline": "middle", "fontSize": 10.5, "color": "#f06464", "text": "MM (Simple 50)"}, "encoding": {"x": {"datum": {"year": 2009, "month": 6, "date": 15}, "type": "temporal", "axis": null}, "y": {"datum": 21.92, "type": "quantitative"}}},
            {"mark": {"type": "rect", "fill": "#adc2ce", "stroke": "#6d8594", "strokeWidth": 1}, "encoding": {"x": {"datum": {"year": 2010, "month": 3, "date": 9}, "type": "temporal", "axis": null}, "x2": {"datum": {"year": 2011, "month": 8, "date": 18}}, "y": {"datum": 22.41, "type": "quantitative"}, "y2": {"datum": 21.43}}},
            {"mark": {"type": "text", "align": "center", "baseline": "middle", "fontSize": 10.5, "color": "#f06464", "text": "MM (Simple 50)"}, "encoding": {"x": {"datum": {"year": 2010, "month": 11, "date": 27}, "type": "temporal", "axis": null}, "y": {"datum": 21.92, "type": "quantitative"}}},

            {"mark": {"type": "rect", "fill": "#dde6f2", "stroke": "#7d8e9c", "strokeWidth": 1}, "encoding": {"x": {"datum": {"year": 2017, "month": 4, "date": 13}, "type": "temporal", "axis": null}, "x2": {"datum": {"year": 2017, "month": 12, "date": 4}}, "y": {"datum": 12.6, "type": "quantitative"}, "y2": {"datum": 11.93}}},
            {"mark": {"type": "text", "align": "left", "baseline": "middle", "fontSize": 11, "color": "#e86060", "text": "11,703"}, "encoding": {"x": {"datum": {"year": 2017, "month": 5, "date": 2}, "type": "temporal", "axis": null}, "y": {"datum": 12.27, "type": "quantitative"}}},
            {"mark": {"type": "rect", "fill": "#dde6f2", "stroke": "#7d8e9c", "strokeWidth": 1}, "encoding": {"x": {"datum": {"year": 2017, "month": 4, "date": 13}, "type": "temporal", "axis": null}, "x2": {"datum": {"year": 2017, "month": 12, "date": 4}}, "y": {"datum": 11.70, "type": "quantitative"}, "y2": {"datum": 11.02}}},
            {"mark": {"type": "text", "align": "left", "baseline": "middle", "fontSize": 11, "color": "#e86060", "text": "11,703"}, "encoding": {"x": {"datum": {"year": 2017, "month": 5, "date": 2}, "type": "temporal", "axis": null}, "y": {"datum": 11.36, "type": "quantitative"}}},
            {"mark": {"type": "rect", "fill": "#dde6f2", "stroke": "#7d8e9c", "strokeWidth": 1}, "encoding": {"x": {"datum": {"year": 2017, "month": 4, "date": 13}, "type": "temporal", "axis": null}, "x2": {"datum": {"year": 2017, "month": 12, "date": 4}}, "y": {"datum": 9.49, "type": "quantitative"}, "y2": {"datum": 8.58}}},
            {"mark": {"type": "text", "align": "left", "baseline": "middle", "fontSize": 11, "color": "#000000", "text": "8,9511"}, "encoding": {"x": {"datum": {"year": 2017, "month": 5, "date": 2}, "type": "temporal", "axis": null}, "y": {"datum": 9.04, "type": "quantitative"}}},
            {"mark": {"type": "rect", "fill": "#f7cc00", "stroke": "#9a8000", "strokeWidth": 1}, "encoding": {"x": {"datum": {"year": 2017, "month": 4, "date": 13}, "type": "temporal", "axis": null}, "x2": {"datum": {"year": 2017, "month": 12, "date": 4}}, "y": {"datum": 3.72, "type": "quantitative"}, "y2": {"datum": 2.81}}},
            {"mark": {"type": "text", "align": "left", "baseline": "middle", "fontSize": 11, "color": "#000000", "text": "3,295"}, "encoding": {"x": {"datum": {"year": 2017, "month": 5, "date": 2}, "type": "temporal", "axis": null}, "y": {"datum": 3.27, "type": "quantitative"}}}
          ]
        }
      ]
    },
    {
      "width": 750, "height": 42,
      "view": {"fill": "#dfe7f8", "stroke": "#7d8e9c"},
      "layer": [
        {"data": {"name": "k"}, "mark": {"type": "bar", "width": 2.6}, "encoding": {"x": {"field": "d", "type": "temporal", "scale": {"domain": [{"year": 2003, "month": 6, "date": 6}, {"year": 2017, "month": 3, "date": 10}]}, "axis": null}, "y": {"field": "v", "type": "quantitative", "scale": {"domain": [-3.7, 150], "nice": false, "zero": false}, "axis": {"orient": "right", "title": null, "labelOverlap": false, "values": [100], "labelExpr": "datum.label + 'M'"}}, "y2": {"datum": 0}, "color": {"condition": {"test": "datum.c >= datum.o", "value": "#4fcf4f"}, "value": "#e46666"}}},
        {
          "data": {"values": [{}]},
          "layer": [
            {"mark": {"type": "rect", "fill": "#adc2ce", "stroke": "#6d8594", "strokeWidth": 1}, "encoding": {"x": {"datum": {"year": 2003, "month": 6, "date": 6}, "type": "temporal", "axis": null}, "x2": {"datum": {"year": 2004, "month": 4, "date": 3}}, "y": {"datum": 146.5, "type": "quantitative"}, "y2": {"datum": 91.6}}},
            {"mark": {"type": "text", "align": "center", "baseline": "middle", "fontSize": 11, "color": "#5fc85f", "text": "Volumen"}, "encoding": {"x": {"datum": {"year": 2003, "month": 11, "date": 1}, "type": "temporal", "axis": null}, "y": {"datum": 119, "type": "quantitative"}}},
            {"mark": {"type": "rect", "fill": "#dde6f2", "stroke": "#7d8e9c", "strokeWidth": 1}, "encoding": {"x": {"datum": {"year": 2017, "month": 4, "date": 13}, "type": "temporal", "axis": null}, "x2": {"datum": {"year": 2017, "month": 12, "date": 8}}, "y": {"datum": 73.3, "type": "quantitative"}, "y2": {"datum": 24.5}}},
            {"mark": {"type": "text", "align": "left", "baseline": "middle", "fontSize": 11, "color": "#4cc84c", "text": "46,8M"}, "encoding": {"x": {"datum": {"year": 2017, "month": 5, "date": 2}, "type": "temporal", "axis": null}, "y": {"datum": 48.7, "type": "quantitative"}}}
          ]
        }
      ]
    },
    {
      "width": 750, "height": 48,
      "view": {"fill": "#dfe7f8", "stroke": "#7d8e9c"},
      "layer": [
        {"data": {"name": "osc"}, "transform": [{"filter": {"and": [{"field": "s", "equal": "mr"}, {"field": "d", "gte": {"year": 2005, "month": 8, "date": 1}}]}}], "mark": {"type": "area", "color": {"gradient": "linear", "x1": 0, "y1": 0, "x2": 0, "y2": 1, "stops": [{"offset": 0, "color": "#d2a658"}, {"offset": 1, "color": "#efe4c8"}]}}, "encoding": {"x": {"field": "d", "type": "temporal", "scale": {"domain": [{"year": 2003, "month": 6, "date": 6}, {"year": 2017, "month": 3, "date": 10}]}, "axis": null}, "y": {"field": "v", "type": "quantitative", "scale": {"domain": [-87.6, 243], "nice": false, "zero": false}, "axis": {"orient": "right", "title": null, "labelOverlap": false, "values": [0, 100, 200], "labelExpr": "datum.value == 200 ? datum.label : ''"}}, "y2": {"datum": 0}}},
        {"data": {"name": "osc"}, "transform": [{"filter": {"field": "s", "equal": "az"}}], "mark": {"type": "area", "color": "#5a6ab4", "opacity": 0.75}, "encoding": {"x": {"field": "d", "type": "temporal", "axis": null}, "y": {"field": "v", "type": "quantitative"}, "y2": {"datum": 0}}},
        {"data": {"values": [{}]}, "mark": {"type": "rule", "color": "#000000", "strokeWidth": 1.5}, "encoding": {"y": {"datum": 0, "type": "quantitative"}}},
        {"data": {"name": "osc"}, "transform": [{"filter": {"and": [{"field": "s", "equal": "mr"}, {"field": "d", "gte": {"year": 2005, "month": 8, "date": 1}}]}}], "mark": {"type": "line", "color": "#2c8c2c", "strokeWidth": 2}, "encoding": {"x": {"field": "d", "type": "temporal", "axis": null}, "y": {"field": "v", "type": "quantitative"}}},
        {"data": {"name": "osc"}, "transform": [{"filter": {"field": "s", "equal": "mr"}}], "mark": {"type": "line", "color": "#5a3020", "strokeWidth": 1}, "encoding": {"x": {"field": "d", "type": "temporal", "axis": null}, "y": {"field": "v", "type": "quantitative"}}},
        {"data": {"name": "osc"}, "transform": [{"filter": {"field": "s", "equal": "az"}}], "mark": {"type": "line", "color": "#1c2c94", "strokeWidth": 1.2}, "encoding": {"x": {"field": "d", "type": "temporal", "axis": null}, "y": {"field": "v", "type": "quantitative"}}},
        {"data": {"name": "osc"}, "transform": [{"filter": {"field": "s", "equal": "md"}}], "mark": {"type": "line", "color": "#ff1a1a", "strokeWidth": 1.2}, "encoding": {"x": {"field": "d", "type": "temporal", "axis": null}, "y": {"field": "v", "type": "quantitative"}}},
        {
          "data": {"values": [{}]},
          "layer": [
            {"mark": {"type": "rect", "fill": "#adc2ce", "stroke": "#6d8594", "strokeWidth": 1}, "encoding": {"x": {"datum": {"year": 2003, "month": 6, "date": 6}, "type": "temporal", "axis": null}, "x2": {"datum": {"year": 2004, "month": 1, "date": 1}}, "y": {"datum": 236.6, "type": "quantitative"}, "y2": {"datum": 140}}},
            {"mark": {"type": "text", "align": "center", "baseline": "middle", "fontSize": 11, "color": "#5fd35f", "text": "verde"}, "encoding": {"x": {"datum": {"year": 2003, "month": 9, "date": 15}, "type": "temporal", "axis": null}, "y": {"datum": 188, "type": "quantitative"}}},
            {"mark": {"type": "rect", "fill": "#adc2ce", "stroke": "#6d8594", "strokeWidth": 1}, "encoding": {"x": {"datum": {"year": 2004, "month": 1, "date": 3}, "type": "temporal", "axis": null}, "x2": {"datum": {"year": 2004, "month": 9, "date": 18}}, "y": {"datum": 236.6, "type": "quantitative"}, "y2": {"datum": 140}}},
            {"mark": {"type": "text", "align": "center", "baseline": "middle", "fontSize": 11, "color": "#f5b272", "text": "marron"}, "encoding": {"x": {"datum": {"year": 2004, "month": 5, "date": 9}, "type": "temporal", "axis": null}, "y": {"datum": 188, "type": "quantitative"}}},
            {"mark": {"type": "rect", "fill": "#adc2ce", "stroke": "#6d8594", "strokeWidth": 1}, "encoding": {"x": {"datum": {"year": 2004, "month": 9, "date": 20}, "type": "temporal", "axis": null}, "x2": {"datum": {"year": 2005, "month": 6, "date": 18}}, "y": {"datum": 236.6, "type": "quantitative"}, "y2": {"datum": 140}}},
            {"mark": {"type": "text", "align": "center", "baseline": "middle", "fontSize": 11, "color": "#111111", "text": "lmarron"}, "encoding": {"x": {"datum": {"year": 2005, "month": 2, "date": 3}, "type": "temporal", "axis": null}, "y": {"datum": 188, "type": "quantitative"}}},
            {"mark": {"type": "rect", "fill": "#adc2ce", "stroke": "#6d8594", "strokeWidth": 1}, "encoding": {"x": {"datum": {"year": 2005, "month": 6, "date": 20}, "type": "temporal", "axis": null}, "x2": {"datum": {"year": 2005, "month": 12, "date": 4}}, "y": {"datum": 236.6, "type": "quantitative"}, "y2": {"datum": 140}}},
            {"mark": {"type": "text", "align": "center", "baseline": "middle", "fontSize": 11, "color": "#3ee6ff", "text": "azul"}, "encoding": {"x": {"datum": {"year": 2005, "month": 9, "date": 11}, "type": "temporal", "axis": null}, "y": {"datum": 188, "type": "quantitative"}}},
            {"mark": {"type": "rect", "fill": "#adc2ce", "stroke": "#6d8594", "strokeWidth": 1}, "encoding": {"x": {"datum": {"year": 2005, "month": 12, "date": 6}, "type": "temporal", "axis": null}, "x2": {"datum": {"year": 2006, "month": 7, "date": 19}}, "y": {"datum": 236.6, "type": "quantitative"}, "y2": {"datum": 140}}},
            {"mark": {"type": "text", "align": "center", "baseline": "middle", "fontSize": 11, "color": "#1e6e1e", "text": "lineav"}, "encoding": {"x": {"datum": {"year": 2006, "month": 3, "date": 26}, "type": "temporal", "axis": null}, "y": {"datum": 188, "type": "quantitative"}}},
            {"mark": {"type": "rect", "fill": "#adc2ce", "stroke": "#6d8594", "strokeWidth": 1}, "encoding": {"x": {"datum": {"year": 2006, "month": 7, "date": 21}, "type": "temporal", "axis": null}, "x2": {"datum": {"year": 2007, "month": 1, "date": 10}}, "y": {"datum": 236.6, "type": "quantitative"}, "y2": {"datum": 140}}},
            {"mark": {"type": "text", "align": "center", "baseline": "middle", "fontSize": 11, "color": "#0a0a80", "text": "lazul"}, "encoding": {"x": {"datum": {"year": 2006, "month": 10, "date": 14}, "type": "temporal", "axis": null}, "y": {"datum": 188, "type": "quantitative"}}},
            {"mark": {"type": "rect", "fill": "#adc2ce", "stroke": "#6d8594", "strokeWidth": 1}, "encoding": {"x": {"datum": {"year": 2007, "month": 1, "date": 12}, "type": "temporal", "axis": null}, "x2": {"datum": {"year": 2007, "month": 8, "date": 25}}, "y": {"datum": 236.6, "type": "quantitative"}, "y2": {"datum": 140}}},
            {"mark": {"type": "text", "align": "center", "baseline": "middle", "fontSize": 11, "color": "#ff1a1a", "text": "media"}, "encoding": {"x": {"datum": {"year": 2007, "month": 5, "date": 3}, "type": "temporal", "axis": null}, "y": {"datum": 188, "type": "quantitative"}}},
            {"mark": {"type": "rect", "fill": "#adc2ce", "stroke": "#6d8594", "strokeWidth": 1}, "encoding": {"x": {"datum": {"year": 2007, "month": 8, "date": 27}, "type": "temporal", "axis": null}, "x2": {"datum": {"year": 2008, "month": 8, "date": 15}}, "y": {"datum": 236.6, "type": "quantitative"}, "y2": {"datum": 140}}},
            {"mark": {"type": "text", "align": "center", "baseline": "middle", "fontSize": 11, "color": "#111111", "text": "cero ( 15)"}, "encoding": {"x": {"datum": {"year": 2008, "month": 2, "date": 20}, "type": "temporal", "axis": null}, "y": {"datum": 188, "type": "quantitative"}}},

            {"mark": {"type": "rect", "fill": "#dde6f2", "stroke": "#7d8e9c", "strokeWidth": 1}, "encoding": {"x": {"datum": {"year": 2017, "month": 4, "date": 13}, "type": "temporal", "axis": null}, "x2": {"datum": {"year": 2017, "month": 12, "date": 4}}, "y": {"datum": 128, "type": "quantitative"}, "y2": {"datum": 30}}},
            {"mark": {"type": "text", "align": "left", "baseline": "middle", "fontSize": 10.5, "color": "#000000", "text": "10,961"}, "encoding": {"x": {"datum": {"year": 2017, "month": 5, "date": 2}, "type": "temporal", "axis": null}, "y": {"datum": 90, "type": "quantitative"}}},
            {"mark": {"type": "rect", "fill": "#dde6f2", "stroke": "#7d8e9c", "strokeWidth": 1}, "encoding": {"x": {"datum": {"year": 2017, "month": 4, "date": 13}, "type": "temporal", "axis": null}, "x2": {"datum": {"year": 2017, "month": 12, "date": 6}}, "y": {"datum": 55, "type": "quantitative"}, "y2": {"datum": -36}}},
            {"mark": {"type": "text", "align": "left", "baseline": "middle", "fontSize": 10.5, "color": "#2a9a2a", "text": "9534"}, "encoding": {"x": {"datum": {"year": 2017, "month": 7, "date": 2}, "type": "temporal", "axis": null}, "y": {"datum": 9, "type": "quantitative"}}},
            {"mark": {"type": "rect", "fill": "#dde6f2", "stroke": "#7d8e9c", "strokeWidth": 1}, "encoding": {"x": {"datum": {"year": 2017, "month": 4, "date": 16}, "type": "temporal", "axis": null}, "x2": {"datum": {"year": 2017, "month": 6, "date": 12}}, "y": {"datum": 15.9, "type": "quantitative"}, "y2": {"datum": -87.6}}},
            {"mark": {"type": "text", "align": "center", "baseline": "middle", "fontSize": 11, "color": "#000000", "text": "0"}, "encoding": {"x": {"datum": {"year": 2017, "month": 5, "date": 14}, "type": "temporal", "axis": null}, "y": {"datum": -40, "type": "quantitative"}}}
          ]
        }
      ]
    },
    {
      "width": 750, "height": 35,
      "view": {"fill": "#dfe7f8", "stroke": "#7d8e9c"},
      "layer": [
        {"data": {"name": "k"}, "mark": {"type": "bar", "width": 2.6}, "encoding": {"x": {"field": "d", "type": "temporal", "scale": {"domain": [{"year": 2003, "month": 6, "date": 6}, {"year": 2017, "month": 3, "date": 10}]}, "axis": null}, "y": {"field": "hs", "type": "quantitative", "scale": {"domain": [-3.09, 4.27], "nice": false, "zero": false}, "axis": {"orient": "right", "title": null, "values": [0], "labelExpr": "''"}}, "y2": {"datum": 0}, "color": {"condition": {"test": "datum.hs >= 0", "value": "#52cf52"}, "value": "#e86a6a"}}},
        {"data": {"name": "macd"}, "mark": {"type": "area", "color": "#e07878"}, "encoding": {"x": {"field": "d", "type": "temporal", "axis": null}, "y": {"field": "mc", "type": "quantitative"}, "y2": {"field": "sg"}}},
        {"data": {"name": "macd"}, "transform": [{"filter": {"field": "d", "range": [{"year": 2003, "month": 7, "date": 1}, {"year": 2007, "month": 6, "date": 1}]}}], "mark": {"type": "area", "color": "#52d052"}, "encoding": {"x": {"field": "d", "type": "temporal", "axis": null}, "y": {"field": "mc", "type": "quantitative"}, "y2": {"field": "sg"}}},
        {"data": {"name": "macd"}, "transform": [{"filter": {"field": "d", "range": [{"year": 2009, "month": 7, "date": 1}, {"year": 2011, "month": 7, "date": 1}]}}], "mark": {"type": "area", "color": "#52d052"}, "encoding": {"x": {"field": "d", "type": "temporal", "axis": null}, "y": {"field": "mc", "type": "quantitative"}, "y2": {"field": "sg"}}},
        {"data": {"name": "macd"}, "transform": [{"filter": {"field": "d", "range": [{"year": 2013, "month": 3, "date": 1}, {"year": 2014, "month": 5, "date": 1}]}}], "mark": {"type": "area", "color": "#52d052"}, "encoding": {"x": {"field": "d", "type": "temporal", "axis": null}, "y": {"field": "mc", "type": "quantitative"}, "y2": {"field": "sg"}}},
        {"data": {"values": [{}]}, "mark": {"type": "rule", "color": "#2222ee", "strokeWidth": 1}, "encoding": {"y": {"datum": 0, "type": "quantitative"}}},
        {"data": {"name": "macd"}, "mark": {"type": "line", "color": "#e05a5a", "strokeWidth": 1}, "encoding": {"x": {"field": "d", "type": "temporal", "axis": null}, "y": {"field": "sg", "type": "quantitative"}}},
        {"data": {"name": "macd"}, "mark": {"type": "line", "color": "#2a3ae8", "strokeWidth": 1.4}, "encoding": {"x": {"field": "d", "type": "temporal", "axis": null}, "y": {"field": "mc", "type": "quantitative"}}},
        {
          "data": {"values": [{}]},
          "layer": [
            {"mark": {"type": "rect", "fill": "#adc2ce", "stroke": "#6d8594", "strokeWidth": 1}, "encoding": {"x": {"datum": {"year": 2003, "month": 6, "date": 6}, "type": "temporal", "axis": null}, "x2": {"datum": {"year": 2004, "month": 9, "date": 11}}, "y": {"datum": 4.27, "type": "quantitative"}, "y2": {"datum": 1.12}}},
            {"mark": {"type": "text", "align": "center", "baseline": "middle", "fontSize": 11, "color": "#5fc85f", "text": "MACD-, señal"}, "encoding": {"x": {"datum": {"year": 2004, "month": 1, "date": 20}, "type": "temporal", "axis": null}, "y": {"datum": 2.69, "type": "quantitative"}}},
            {"mark": {"type": "rect", "fill": "#adc2ce", "stroke": "#6d8594", "strokeWidth": 1}, "encoding": {"x": {"datum": {"year": 2004, "month": 9, "date": 13}, "type": "temporal", "axis": null}, "x2": {"datum": {"year": 2005, "month": 4, "date": 19}}, "y": {"datum": 4.27, "type": "quantitative"}, "y2": {"datum": 1.12}}},
            {"mark": {"type": "text", "align": "center", "baseline": "middle", "fontSize": 11, "color": "#f07070", "text": "Señal"}, "encoding": {"x": {"datum": {"year": 2005, "month": 1, "date": 1}, "type": "temporal", "axis": null}, "y": {"datum": 2.69, "type": "quantitative"}}},
            {"mark": {"type": "rect", "fill": "#adc2ce", "stroke": "#6d8594", "strokeWidth": 1}, "encoding": {"x": {"datum": {"year": 2005, "month": 4, "date": 21}, "type": "temporal", "axis": null}, "x2": {"datum": {"year": 2006, "month": 11, "date": 4}}, "y": {"datum": 4.27, "type": "quantitative"}, "y2": {"datum": 1.12}}},
            {"mark": {"type": "text", "align": "center", "baseline": "middle", "fontSize": 11, "color": "#2222cc", "text": "MACD ( 12 26 9)"}, "encoding": {"x": {"datum": {"year": 2006, "month": 1, "date": 26}, "type": "temporal", "axis": null}, "y": {"datum": 2.69, "type": "quantitative"}}},
            {"mark": {"type": "rect", "fill": "#dde6f2", "stroke": "#7d8e9c", "strokeWidth": 1}, "encoding": {"x": {"datum": {"year": 2017, "month": 4, "date": 13}, "type": "temporal", "axis": null}, "x2": {"datum": {"year": 2017, "month": 12, "date": 4}}, "y": {"datum": 2.23, "type": "quantitative"}, "y2": {"datum": 0.13}}},
            {"mark": {"type": "text", "align": "left", "baseline": "middle", "fontSize": 11, "color": "#4cc84c", "text": "0,0230"}, "encoding": {"x": {"datum": {"year": 2017, "month": 5, "date": 2}, "type": "temporal", "axis": null}, "y": {"datum": 1.18, "type": "quantitative"}}},
            {"mark": {"type": "rect", "fill": "#dde6f2", "stroke": "#7d8e9c", "strokeWidth": 1}, "encoding": {"x": {"datum": {"year": 2017, "month": 4, "date": 13}, "type": "temporal", "axis": null}, "x2": {"datum": {"year": 2017, "month": 12, "date": 10}}, "y": {"datum": -0.21, "type": "quantitative"}, "y2": {"datum": -2.67}}},
            {"mark": {"type": "text", "align": "left", "baseline": "middle", "fontSize": 11, "color": "#e86060", "text": "-2,5290"}, "encoding": {"x": {"datum": {"year": 2017, "month": 5, "date": 2}, "type": "temporal", "axis": null}, "y": {"datum": -1.45, "type": "quantitative"}}}
          ]
        }
      ]
    },
    {
      "width": 750, "height": 51,
      "view": {"fill": "#dfe7f8", "stroke": "#7d8e9c"},
      "resolve": {"scale": {"y": "independent"}},
      "layer": [
        {"data": {"name": "rsi"}, "mark": {"type": "area", "color": "#b9828a", "opacity": 0.9}, "encoding": {"x": {"field": "d", "type": "temporal", "scale": {"domain": [{"year": 2003, "month": 6, "date": 6}, {"year": 2017, "month": 3, "date": 10}]}, "axis": null}, "y": {"field": "v", "type": "quantitative", "scale": {"domain": [70, 112.9], "range": [18.23, 0], "clamp": true, "nice": false, "zero": false}, "axis": null}, "y2": {"datum": 70}}},
        {"data": {"name": "rsi"}, "mark": {"type": "area", "color": "#7cc87c"}, "encoding": {"x": {"field": "d", "type": "temporal", "axis": null}, "y": {"field": "v", "type": "quantitative", "scale": {"domain": [-7.1, 30], "range": [51, 35.23], "clamp": true, "nice": false, "zero": false}, "axis": null}, "y2": {"datum": 30}}},
        {
          "layer": [
            {"data": {"values": [{}]}, "mark": {"type": "rule", "color": "#2a2ae6", "strokeWidth": 1}, "encoding": {"y": {"datum": 70, "type": "quantitative"}}},
            {"data": {"values": [{}]}, "mark": {"type": "rule", "color": "#2a2ae6", "strokeWidth": 1}, "encoding": {"y": {"datum": 30, "type": "quantitative"}}},
            {"data": {"name": "rsi"}, "mark": {"type": "line", "color": "#000000", "strokeWidth": 1}, "encoding": {"x": {"field": "d", "type": "temporal", "axis": null}, "y": {"field": "v", "type": "quantitative", "scale": {"domain": [-7.1, 112.9], "nice": false, "zero": false}, "axis": {"orient": "right", "title": null, "labels": false, "values": [0, 50, 100]}}}},
            {"data": {"values": [{}]}, "mark": {"type": "text", "align": "left", "baseline": "middle", "fontSize": 12, "fontWeight": "bold", "color": "#000000", "text": "100"}, "encoding": {"x": {"datum": {"year": 2017, "month": 4, "date": 19}, "type": "temporal", "axis": null}, "y": {"datum": 100, "type": "quantitative"}}},
            {"data": {"values": [{}]}, "mark": {"type": "text", "align": "left", "baseline": "bottom", "dy": 3, "fontSize": 11, "color": "#000000", "text": "50"}, "encoding": {"x": {"datum": {"year": 2017, "month": 4, "date": 19}, "type": "temporal", "axis": null}, "y": {"datum": 50, "type": "quantitative"}}},
            {"data": {"values": [{}]}, "mark": {"type": "text", "align": "left", "baseline": "middle", "fontSize": 12, "fontWeight": "bold", "color": "#000000", "text": "0"}, "encoding": {"x": {"datum": {"year": 2017, "month": 4, "date": 19}, "type": "temporal", "axis": null}, "y": {"datum": 0, "type": "quantitative"}}},
            {"data": {"values": [{}]}, "mark": {"type": "rect", "fill": "#adc2ce", "stroke": "#6d8594", "strokeWidth": 1}, "encoding": {"x": {"datum": {"year": 2003, "month": 6, "date": 6}, "type": "temporal", "axis": null}, "x2": {"datum": {"year": 2004, "month": 4, "date": 9}}, "y": {"datum": 110.6, "type": "quantitative"}, "y2": {"datum": 75.3}}},
            {"data": {"values": [{}]}, "mark": {"type": "text", "align": "center", "baseline": "middle", "fontSize": 11, "color": "#111111", "text": "RSI ( 14)"}, "encoding": {"x": {"datum": {"year": 2003, "month": 11, "date": 4}, "type": "temporal", "axis": null}, "y": {"datum": 92.9, "type": "quantitative"}}},
            {"data": {"values": [{}]}, "mark": {"type": "rect", "fill": "#dde6f2", "stroke": "#7d8e9c", "strokeWidth": 1}, "encoding": {"x": {"datum": {"year": 2017, "month": 4, "date": 13}, "type": "temporal", "axis": null}, "x2": {"datum": {"year": 2017, "month": 12, "date": 10}}, "y": {"datum": 43, "type": "quantitative"}, "y2": {"datum": 14.8}}},
            {"data": {"values": [{}]}, "mark": {"type": "text", "align": "left", "baseline": "middle", "fontSize": 11, "color": "#000000", "text": "31,469"}, "encoding": {"x": {"datum": {"year": 2017, "month": 5, "date": 2}, "type": "temporal", "axis": null}, "y": {"datum": 28, "type": "quantitative"}}}
          ]
        }
      ]
    },
    {
      "width": 750, "height": 16,
      "view": {"fill": "#dfe7f8", "stroke": "#7d8e9c"},
      "layer": [
        {"data": {"name": "atlas"}, "mark": {"type": "area", "color": {"gradient": "linear", "x1": 0, "y1": 0, "x2": 0, "y2": 1, "stops": [{"offset": 0, "color": "#2d3190"}, {"offset": 1, "color": "#a0a6e6"}]}}, "encoding": {"x": {"field": "d", "type": "temporal", "scale": {"domain": [{"year": 2003, "month": 6, "date": 6}, {"year": 2017, "month": 3, "date": 10}]}, "axis": {"title": null, "format": "%Y", "labelOverlap": false, "values": [{"year": 2004, "month": 1, "date": 1}, {"year": 2005, "month": 1, "date": 1}, {"year": 2006, "month": 1, "date": 1}, {"year": 2007, "month": 1, "date": 1}, {"year": 2008, "month": 1, "date": 1}, {"year": 2009, "month": 1, "date": 1}, {"year": 2010, "month": 1, "date": 1}, {"year": 2011, "month": 1, "date": 1}, {"year": 2012, "month": 1, "date": 1}, {"year": 2013, "month": 1, "date": 1}, {"year": 2014, "month": 1, "date": 1}, {"year": 2015, "month": 1, "date": 1}, {"year": 2016, "month": 1, "date": 1}], "labelFontSize": 11.5, "labelPadding": 3, "labelFlush": false}}, "y": {"field": "v", "type": "quantitative", "scale": {"domain": [0, 1.23], "nice": false, "zero": false}, "axis": {"orient": "right", "title": null, "values": [0], "labelExpr": "''"}}, "y2": {"datum": 0}}},
        {"data": {"name": "atlas"}, "mark": {"type": "line", "color": "#101030", "strokeWidth": 1.5}, "encoding": {"x": {"field": "d", "type": "temporal"}, "y": {"field": "v", "type": "quantitative"}}},
        {
          "data": {"values": [{}]},
          "layer": [
            {"mark": {"type": "rect", "fill": "#adc2ce", "stroke": "#6d8594", "strokeWidth": 1}, "encoding": {"x": {"datum": {"year": 2003, "month": 6, "date": 6}, "type": "temporal"}, "x2": {"datum": {"year": 2004, "month": 7, "date": 12}}, "y": {"datum": 1.15, "type": "quantitative"}, "y2": {"datum": 0.077}}},
            {"mark": {"type": "text", "align": "center", "baseline": "middle", "fontSize": 11, "color": "#111111", "text": "ATLAS Mini"}, "encoding": {"x": {"datum": {"year": 2003, "month": 12, "date": 22}, "type": "temporal"}, "y": {"datum": 0.615, "type": "quantitative"}}},
            {"mark": {"type": "rect", "fill": "#dde6f2", "stroke": "#7d8e9c", "strokeWidth": 1}, "encoding": {"x": {"datum": {"year": 2017, "month": 4, "date": 16}, "type": "temporal"}, "x2": {"datum": {"year": 2017, "month": 6, "date": 12}}, "y": {"datum": 1.05, "type": "quantitative"}, "y2": {"datum": 0.23}}},
            {"mark": {"type": "text", "align": "center", "baseline": "middle", "fontSize": 10.5, "color": "#000000", "text": "0"}, "encoding": {"x": {"datum": {"year": 2017, "month": 5, "date": 14}, "type": "temporal"}, "y": {"datum": 0.55, "type": "quantitative"}}}
          ]
        }
      ]
    }
  ]
}
